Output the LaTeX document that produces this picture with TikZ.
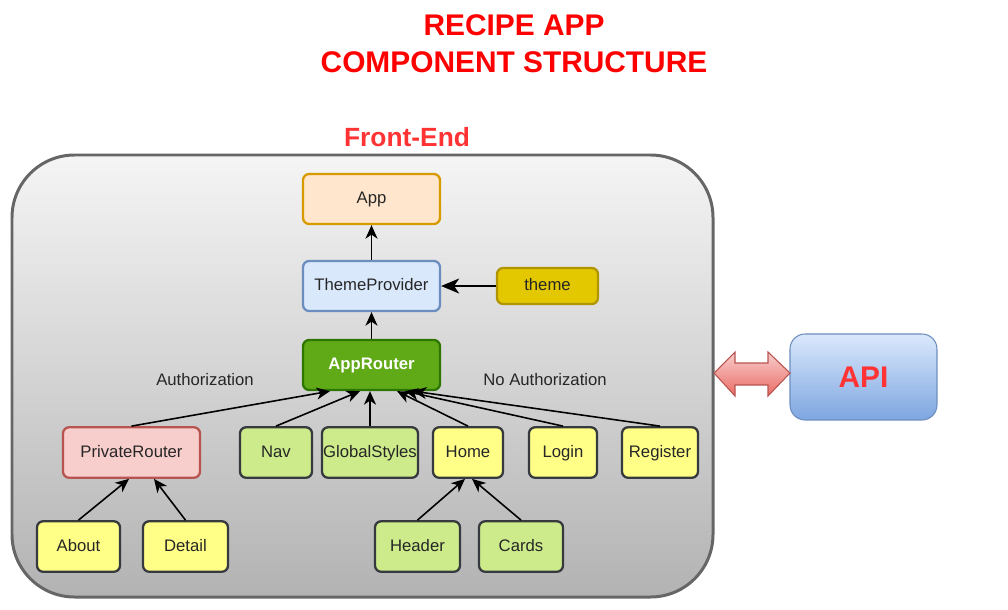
\documentclass[tikz,border=0pt]{standalone}
\usepackage{fontspec}
\setmainfont{Liberation Sans}
\usetikzlibrary{arrows.meta}
\definecolor{titlered}{HTML}{FF0000}
\definecolor{softred}{HTML}{FF3333}
\definecolor{framegrey}{HTML}{666666}
\definecolor{darkline}{HTML}{36393D}
\definecolor{appfill}{HTML}{FFE6CC}
\definecolor{appline}{HTML}{D79B00}
\definecolor{bluefill}{HTML}{DAE8FC}
\definecolor{blueline}{HTML}{6C8EBF}
\definecolor{bluedeep}{HTML}{7EA6E0}
\definecolor{themefill}{HTML}{E3C800}
\definecolor{themeline}{HTML}{B09500}
\definecolor{routerfill}{HTML}{60A917}
\definecolor{routerline}{HTML}{2D7600}
\definecolor{pinkfill}{HTML}{F8CECC}
\definecolor{pinkline}{HTML}{B85450}
\definecolor{pinkdeep}{HTML}{EA6B66}
\definecolor{greenfill}{HTML}{CDEB8B}
\definecolor{yellowfill}{HTML}{FFFF88}
\tikzset{
  comp/.style={draw, rounded corners=3.5pt, line width=1.3pt, inner sep=0pt, minimum height=1.01cm, text height=0.72em, text depth=0.2em, font=\fontsize{9.5}{11}\selectfont, text=black!85},
  leafbox/.style={comp, draw=darkline, fill=yellowfill},
  libbox/.style={comp, draw=darkline, fill=greenfill},
  link/.style={-{Stealth[length=0.27cm,width=0.24cm,inset=0.08cm]}, line width=0.9pt}
}
\begin{document}
\begin{tikzpicture}[x=0.02cm,y=-0.02cm]
        \useasboundingbox (0,0) rectangle (1008,609);
        %Titres
        \node [align=center, text=titlered, font=\bfseries\fontsize{17}{21}\selectfont] (title) at (514,43.5) {RECIPE APP\\COMPONENT STRUCTURE};
        \node [text=softred, font=\bfseries\fontsize{15}{18}\selectfont] (front) at (407,137) {Front-End};
        %Cadre Front-End
        \draw [draw=framegrey, line width=1.7pt, top color=black!4, bottom color=black!30, rounded corners=1.25cm] (12,155) rectangle (713,597);
        %Boxs du haut
        \node [comp, draw=appline, fill=appfill, minimum width=2.74cm, minimum height=1cm] (app) at (371.5,199) {App};
        \node [comp, draw=blueline, fill=bluefill, minimum width=2.74cm, minimum height=1cm] (tp) at (371.5,286) {ThemeProvider};
        \node [comp, draw=themeline, fill=themefill, minimum width=2.02cm, minimum height=0.72cm] (theme) at (547.5,286) {theme};
        \node [comp, draw=routerline, fill=routerfill, text=white, minimum width=2.74cm, minimum height=1cm, font=\bfseries\fontsize{9.5}{11}\selectfont] (router) at (371.5,365) {AppRouter};
        %Textes
        \node [text=black!85, font=\fontsize{9.5}{11}\selectfont] (auth) at (205,380) {Authorization};
        \node [text=black!85, font=\fontsize{9.5}{11}\selectfont] (noauth) at (545,380) {No Authorization};
        %Boxs du milieu
        \node [comp, draw=pinkline, fill=pinkfill, minimum width=2.74cm] (priv) at (131.5,452.5) {PrivateRouter};
        \node [libbox, minimum width=1.44cm] (nav) at (276,452.5) {Nav};
        \node [libbox, minimum width=1.92cm] (glob) at (370,452.5) {GlobalStyles};
        \node [leafbox, minimum width=1.40cm] (home) at (468,452.5) {Home};
        \node [leafbox, minimum width=1.36cm] (login) at (563,452.5) {Login};
        \node [leafbox, minimum width=1.52cm] (register) at (660,452.5) {Register};
        %Boxs du bas
        \node [leafbox, minimum width=1.66cm] (about) at (78.5,546.5) {About};
        \node [leafbox, minimum width=1.70cm] (detail) at (185.5,546.5) {Detail};
        \node [libbox, minimum width=1.70cm] (header) at (417.5,546.5) {Header};
        \node [libbox, minimum width=1.68cm] (cards) at (521,546.5) {Cards};
        %API
        \node [draw=blueline, line width=0.6pt, top color=bluefill, bottom color=bluedeep, rounded corners=0.3cm, minimum width=2.94cm, minimum height=1.72cm, text=softred, font=\bfseries\fontsize{17}{20}\selectfont] (api) at (863.5,377) {API};
        \draw [draw=pinkline, line width=0.6pt, top color=pinkfill, bottom color=pinkdeep] (714,373) -- (735,352) -- (735,363) -- (768,363) -- (768,352) -- (790,373) -- (768,396) -- (768,385) -- (735,385) -- (735,396) -- cycle;
        %Fleches
        \draw [link] (tp.north) -- (app.south);
        \draw [link, -{Stealth[length=0.36cm,width=0.3cm,inset=0.1cm]}] (theme.west) -- (tp.east);
        \draw [link] (router.north) -- (tp.south);
        \draw [link] (priv.north) -- ([xshift=-0.83cm]router.south);
        \draw [link] (nav.north) -- ([xshift=-0.23cm]router.south);
        \draw [link] (glob.north) -- (glob.north |- router.south);
        \draw [link] (home.north) -- ([xshift=0.51cm]router.south);
        \draw [link] (login.north) -- ([xshift=0.67cm]router.south);
        \draw [link] (register.north) -- ([xshift=0.83cm]router.south);
        \draw [link] (about.north) -- ([xshift=-0.05cm]priv.south);
        \draw [link] (detail.north) -- ([xshift=0.45cm]priv.south);
        \draw [link] (header.north) -- ([xshift=-0.06cm]home.south);
        \draw [link] (cards.north) -- ([xshift=0.08cm]home.south);
\end{tikzpicture}
\end{document}
